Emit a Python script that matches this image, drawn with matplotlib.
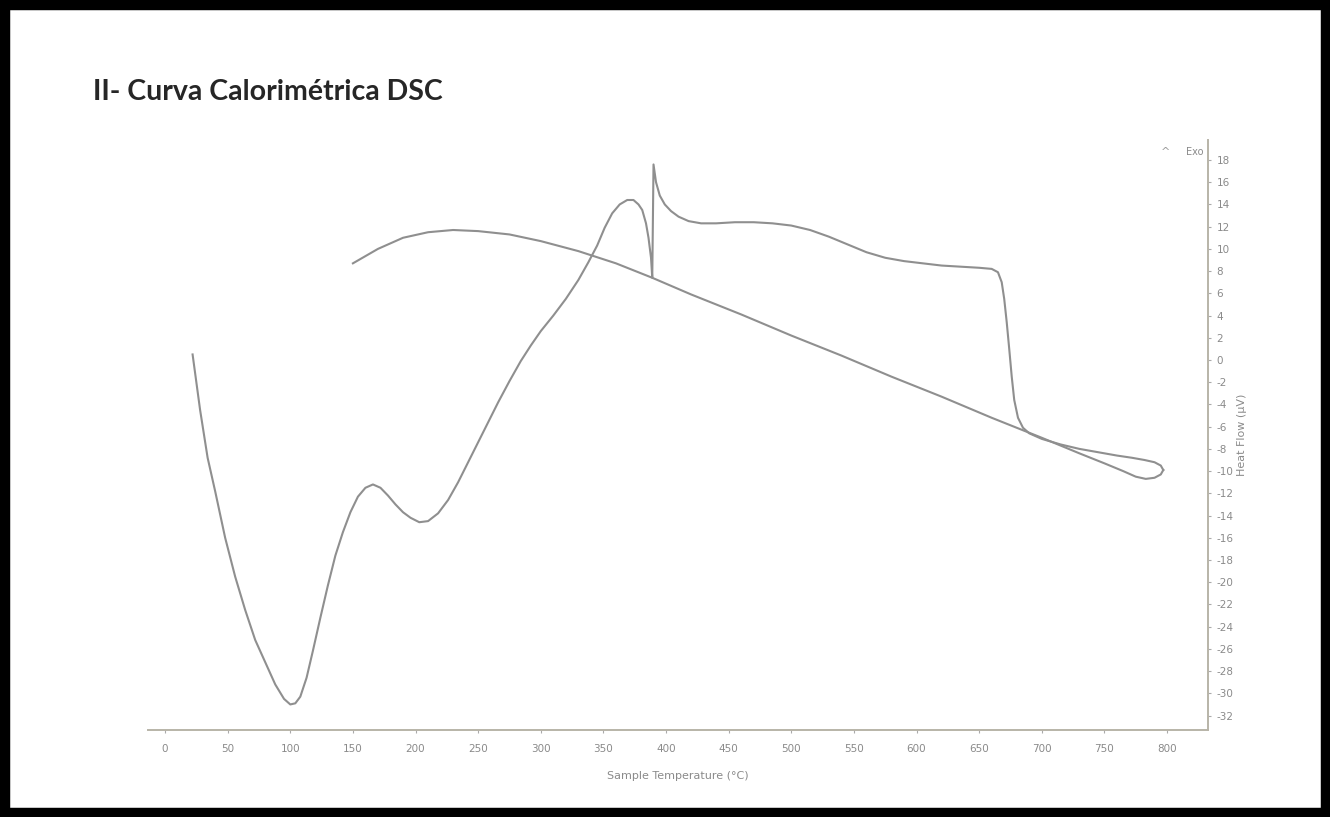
import matplotlib

matplotlib.use("Agg")
import matplotlib.pyplot as plt
from matplotlib.patches import Rectangle

# heating run (sample temperature in C, heat flow in uV)
heat_temp = [22, 28, 34, 40, 48, 56, 64, 72, 80, 88, 95, 100, 104, 108, 113, 118,
             124, 130, 136, 142, 148, 154, 160, 166, 172, 178, 184, 190, 196, 203,
             210, 218, 226, 234, 242, 250, 258, 266, 275, 284, 292, 300, 310, 320,
             330, 338, 345, 351, 357, 363, 369, 374, 378, 381, 384, 386, 388, 389,
             389.5, 390, 392, 395, 399, 404, 410, 418, 428, 440, 455, 470, 485, 500,
             515, 530, 545, 560, 575, 590, 605, 620, 635, 650, 660, 665, 668, 670,
             672, 674, 676, 678, 681, 685, 690, 700, 715, 730, 745, 760, 772, 782,
             790, 795, 797]
heat_flow = [0.5, -4.5, -8.8, -11.8, -16.0, -19.5, -22.5, -25.2, -27.2, -29.2, -30.5,
             -31.0, -30.9, -30.3, -28.6, -26.2, -23.2, -20.3, -17.6, -15.5, -13.7,
             -12.3, -11.5, -11.2, -11.5, -12.2, -13.0, -13.7, -14.2, -14.6, -14.5,
             -13.8, -12.6, -11.0, -9.2, -7.4, -5.6, -3.8, -1.9, -0.1, 1.3, 2.6, 4.0,
             5.5, 7.2, 8.8, 10.3, 11.9, 13.2, 14.0, 14.4, 14.4, 14.0, 13.5, 12.3,
             11.0, 9.2, 7.4, 12.5, 17.6, 16.0, 14.8, 14.0, 13.4, 12.9, 12.5, 12.3,
             12.3, 12.4, 12.4, 12.3, 12.1, 11.7, 11.1, 10.4, 9.7, 9.2, 8.9, 8.7, 8.5,
             8.4, 8.3, 8.2, 7.9, 7.0, 5.5, 3.4, 1.0, -1.5, -3.6, -5.2, -6.1, -6.6,
             -7.1, -7.6, -8.0, -8.3, -8.6, -8.8, -9.0, -9.2, -9.5, -9.9]

# cooling run back down
cool_temp = [797, 795, 790, 783, 775, 765, 750, 730, 700, 660, 620, 580, 540, 500,
             460, 420, 389, 360, 330, 300, 275, 250, 230, 210, 190, 170, 150]
cool_flow = [-9.9, -10.3, -10.6, -10.7, -10.5, -10.0, -9.3, -8.4, -7.0, -5.2, -3.3,
             -1.5, 0.4, 2.2, 4.1, 5.9, 7.4, 8.7, 9.8, 10.7, 11.3, 11.6, 11.7, 11.5,
             11.0, 10.0, 8.7]

x_ticks = list(range(0, 801, 50))
y_ticks = list(range(-32, 19, 2))

fig = plt.figure(figsize=(13.3, 8.17), dpi=100)
ax = fig.add_axes([148 / 1330, 1 - 730 / 817, 1060 / 1330, 590 / 817])

line_color = "#8f8f8f"
ax.plot(heat_temp, heat_flow, color=line_color, lw=1.5)
ax.plot(cool_temp, cool_flow, color=line_color, lw=1.5)

ax.set_xlim(-13.6, 832.7)
ax.set_ylim(-33.3, 19.8)

ax.spines["left"].set_visible(False)
ax.spines["top"].set_visible(False)
for s in ("bottom", "right"):
    ax.spines[s].set_color("#b8b4a8")
    ax.spines[s].set_linewidth(1.4)

ax.yaxis.tick_right()
ax.yaxis.set_label_position("right")
ax.set_xticks(x_ticks)
ax.set_xticklabels([str(t) for t in x_ticks])
ax.set_yticks(y_ticks)
ax.set_yticklabels([str(t) for t in y_ticks])
ax.tick_params(axis="both", colors="#aaaaaa", labelcolor="#8a8a8a",
               labelsize=7.5, length=2, width=0.8)
ax.tick_params(axis="x", pad=8)
ax.tick_params(axis="y", pad=4)

ax.set_xlabel("Sample Temperature (°C)", color="#8a8a8a", fontsize=8, labelpad=12)
ax.set_ylabel("Heat Flow (µV)", color="#8a8a8a", fontsize=8, labelpad=3)

fig.text(1166 / 1330, 1 - 152 / 817, "^", color="#9a9a9a", fontsize=8,
         ha="center", va="center")
fig.text(1195 / 1330, 1 - 152 / 817, "Exo", color="#8a8a8a", fontsize=7,
         ha="center", va="center")

fig.text(93 / 1330, 1 - 92 / 817, "II- Curva Calorimétrica DSC", fontsize=20.5,
         fontweight="bold", family="Lato", color="#262626", ha="left", va="center")

# black frame round the picture
fig.patches.append(Rectangle((0, 0), 1, 1, transform=fig.transFigure, fill=False,
                             edgecolor="black", linewidth=14))

fig.savefig("out.png", dpi=100)
